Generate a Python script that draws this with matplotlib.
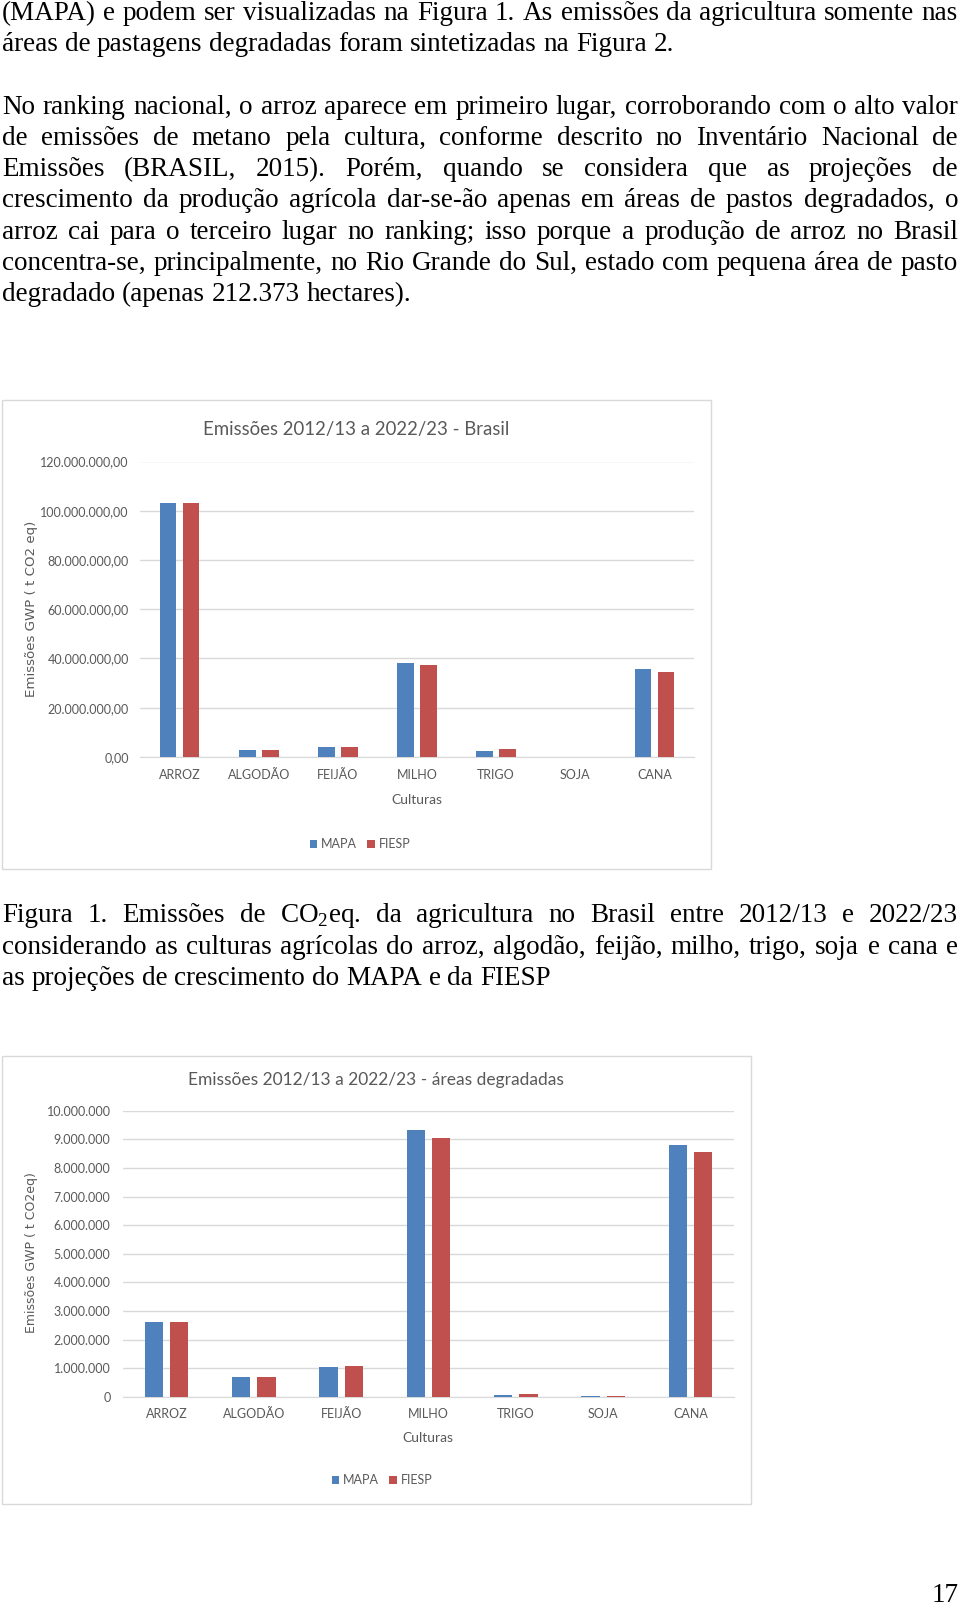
import matplotlib
matplotlib.use("Agg")
import matplotlib.pyplot as plt
from matplotlib.patches import Rectangle
from matplotlib.ticker import FuncFormatter, MultipleLocator

W, H = 960, 1609

# ---- dados ----
culturas = ['ARROZ', 'ALGODÃO', 'FEIJÃO', 'MILHO', 'TRIGO', 'SOJA', 'CANA']
brasil_mapa = [103.0e6, 2.9e6, 4.2e6, 38.3e6, 2.6e6, 0.05e6, 35.6e6]
brasil_fiesp = [103.0e6, 2.9e6, 4.2e6, 37.5e6, 3.4e6, 0.05e6, 34.7e6]
degr_mapa = [2.63e6, 0.69e6, 1.06e6, 9.33e6, 0.08e6, 0.02e6, 8.81e6]
degr_fiesp = [2.63e6, 0.69e6, 1.08e6, 9.03e6, 0.12e6, 0.02e6, 8.54e6]

paragrafo1 = [
    "(MAPA) e podem ser visualizadas na Figura 1. As emissões da agricultura somente nas",
    "áreas de pastagens degradadas foram sintetizadas na Figura 2.",
]
paragrafo2 = [
    "No ranking nacional, o arroz aparece em primeiro lugar, corroborando com o alto valor",
    "de emissões de metano pela cultura, conforme descrito no Inventário Nacional de",
    "Emissões (BRASIL, 2015). Porém, quando se considera que as projeções de",
    "crescimento da produção agrícola dar-se-ão apenas em áreas de pastos degradados, o",
    "arroz cai para o terceiro lugar no ranking; isso porque a produção de arroz no Brasil",
    "concentra-se, principalmente, no Rio Grande do Sul, estado com pequena área de pasto",
    "degradado (apenas 212.373 hectares).",
]
legenda1 = [
    "Figura 1. Emissões de CO$_\\mathregular{2}$eq. da agricultura no Brasil entre 2012/13 e 2022/23",
    "considerando as culturas agrícolas do arroz, algodão, feijão, milho, trigo, soja e cana e",
    "as projeções de crescimento do MAPA e da FIESP",
]

AZUL = '#4F81BD'
VERMELHO = '#C0504D'
CINZA = '#595959'
GRADE = '#d9d9d9'
SERIF = 'Liberation Serif'
CHART_FONT = 'Lato'
TXT_SIZE = 19.5

plt.rcParams['mathtext.fontset'] = 'custom'
plt.rcParams['mathtext.rm'] = SERIF

fig = plt.figure(figsize=(W / 100, H / 100), dpi=100)
renderer = fig.canvas.get_renderer()


def fx(px):
    return px / W


def fy(py):
    return 1 - py / H


def linha(texto, y, justificar, x0=2, x1=958):
    """Desenha uma linha de texto palavra por palavra (justificada ou não)."""
    palavras = texto.split(' ')
    objs = [fig.text(0, fy(y), p, fontsize=TXT_SIZE, family=SERIF,
                     va='center', ha='left', color='black') for p in palavras]
    larg = [o.get_window_extent(renderer).width for o in objs]
    if justificar and len(palavras) > 1:
        gap = (x1 - x0 - sum(larg)) / (len(palavras) - 1)
    else:
        gap = TXT_SIZE * 100 / 72 * 0.25
    x = x0
    for o, w in zip(objs, larg):
        o.set_x(fx(x))
        x += w + gap


def bloco(linhas, y0, passo=31.3):
    for i, t in enumerate(linhas):
        linha(t, y0 + i * passo, i < len(linhas) - 1)


bloco(paragrafo1, 14, passo=30.5)
bloco(paragrafo2, 107)
bloco(legenda1, 916)
fig.text(fx(945), fy(1596), '17', fontsize=TXT_SIZE, family=SERIF,
         ha='center', va='center')


def fmt_br(dec):
    def f(v, pos):
        s = f"{v:,.{dec}f}"
        return s.replace(',', '#').replace('.', ',').replace('#', '.')
    return FuncFormatter(f)


def grafico(rect, mapa, fiesp, ymax, passo, dec, ypad, xpad):
    ax = fig.add_axes(rect)
    x = range(len(culturas))
    w = 0.21
    ax.bar([i - 0.145 for i in x], mapa, w, color=AZUL, label='MAPA', zorder=3)
    ax.bar([i + 0.145 for i in x], fiesp, w, color=VERMELHO, label='FIESP', zorder=3)
    ax.set_xlim(-0.5, len(culturas) - 0.5)
    ax.set_ylim(0, ymax)
    ax.yaxis.set_major_locator(MultipleLocator(passo))
    ax.yaxis.set_major_formatter(fmt_br(dec))
    ax.set_xticks(list(x))
    ax.set_xticklabels(culturas)
    ax.grid(axis='y', color=GRADE, lw=1, zorder=0)
    for s in ['top', 'left', 'right']:
        ax.spines[s].set_visible(False)
    ax.spines['bottom'].set_color(GRADE)
    ax.tick_params(length=0, labelcolor=CINZA, labelsize=9)
    ax.tick_params(axis='y', pad=ypad)
    ax.tick_params(axis='x', pad=xpad)
    for t in ax.get_xticklabels() + ax.get_yticklabels():
        t.set_family(CHART_FONT)
    return ax


# ---- Figura 1 ----
fig.patches.append(Rectangle((fx(2), fy(869)), fx(709), 469 / H, transform=fig.transFigure,
                             fill=False, edgecolor=GRADE, lw=1))
ax1 = grafico([fx(140), fy(757), fx(554), 295.5 / H], brasil_mapa, brasil_fiesp,
              120e6, 20e6, 2, 8, 9)
fig.text(fx(356), fy(429), 'Emissões 2012/13 a 2022/23 - Brasil', fontsize=13.4,
         family=CHART_FONT, color=CINZA, ha='center', va='center')
fig.text(fx(31), fy(609), 'Emissões GWP ( t CO2 eq)', fontsize=9.6, family='DejaVu Sans',
         color=CINZA, rotation=90, ha='center', va='center')
fig.text(fx(417), fy(800), 'Culturas', fontsize=10, family=CHART_FONT, color=CINZA,
         ha='center', va='center')
ax1.legend(loc='center', bbox_to_anchor=(fx(360), fy(844)), bbox_transform=fig.transFigure,
           ncol=2, frameon=False, handlelength=0.6, handleheight=0.6, handletextpad=0.3,
           columnspacing=0.8, prop={'family': CHART_FONT, 'size': 9}, labelcolor=CINZA)

# ---- Figura 2 ----
fig.patches.append(Rectangle((fx(2), fy(1504)), fx(749), 448 / H, transform=fig.transFigure,
                             fill=False, edgecolor=GRADE, lw=1))
ax2 = grafico([fx(123), fy(1397), fx(611), 286.3 / H], degr_mapa, degr_fiesp,
              10e6, 1e6, 0, 9, 8)
fig.text(fx(376), fy(1080), 'Emissões 2012/13 a 2022/23 - áreas degradadas', fontsize=12.5,
         family=CHART_FONT, color=CINZA, ha='center', va='center')
fig.text(fx(32), fy(1253), 'Emissões GWP ( t CO2eq)', fontsize=9, family='DejaVu Sans',
         color=CINZA, rotation=90, ha='center', va='center')
fig.text(fx(428), fy(1438), 'Culturas', fontsize=10, family=CHART_FONT, color=CINZA,
         ha='center', va='center')
ax2.legend(loc='center', bbox_to_anchor=(fx(382), fy(1480)), bbox_transform=fig.transFigure,
           ncol=2, frameon=False, handlelength=0.6, handleheight=0.6, handletextpad=0.3,
           columnspacing=0.8, prop={'family': CHART_FONT, 'size': 9}, labelcolor=CINZA)

fig.savefig('out.png', dpi=100)
